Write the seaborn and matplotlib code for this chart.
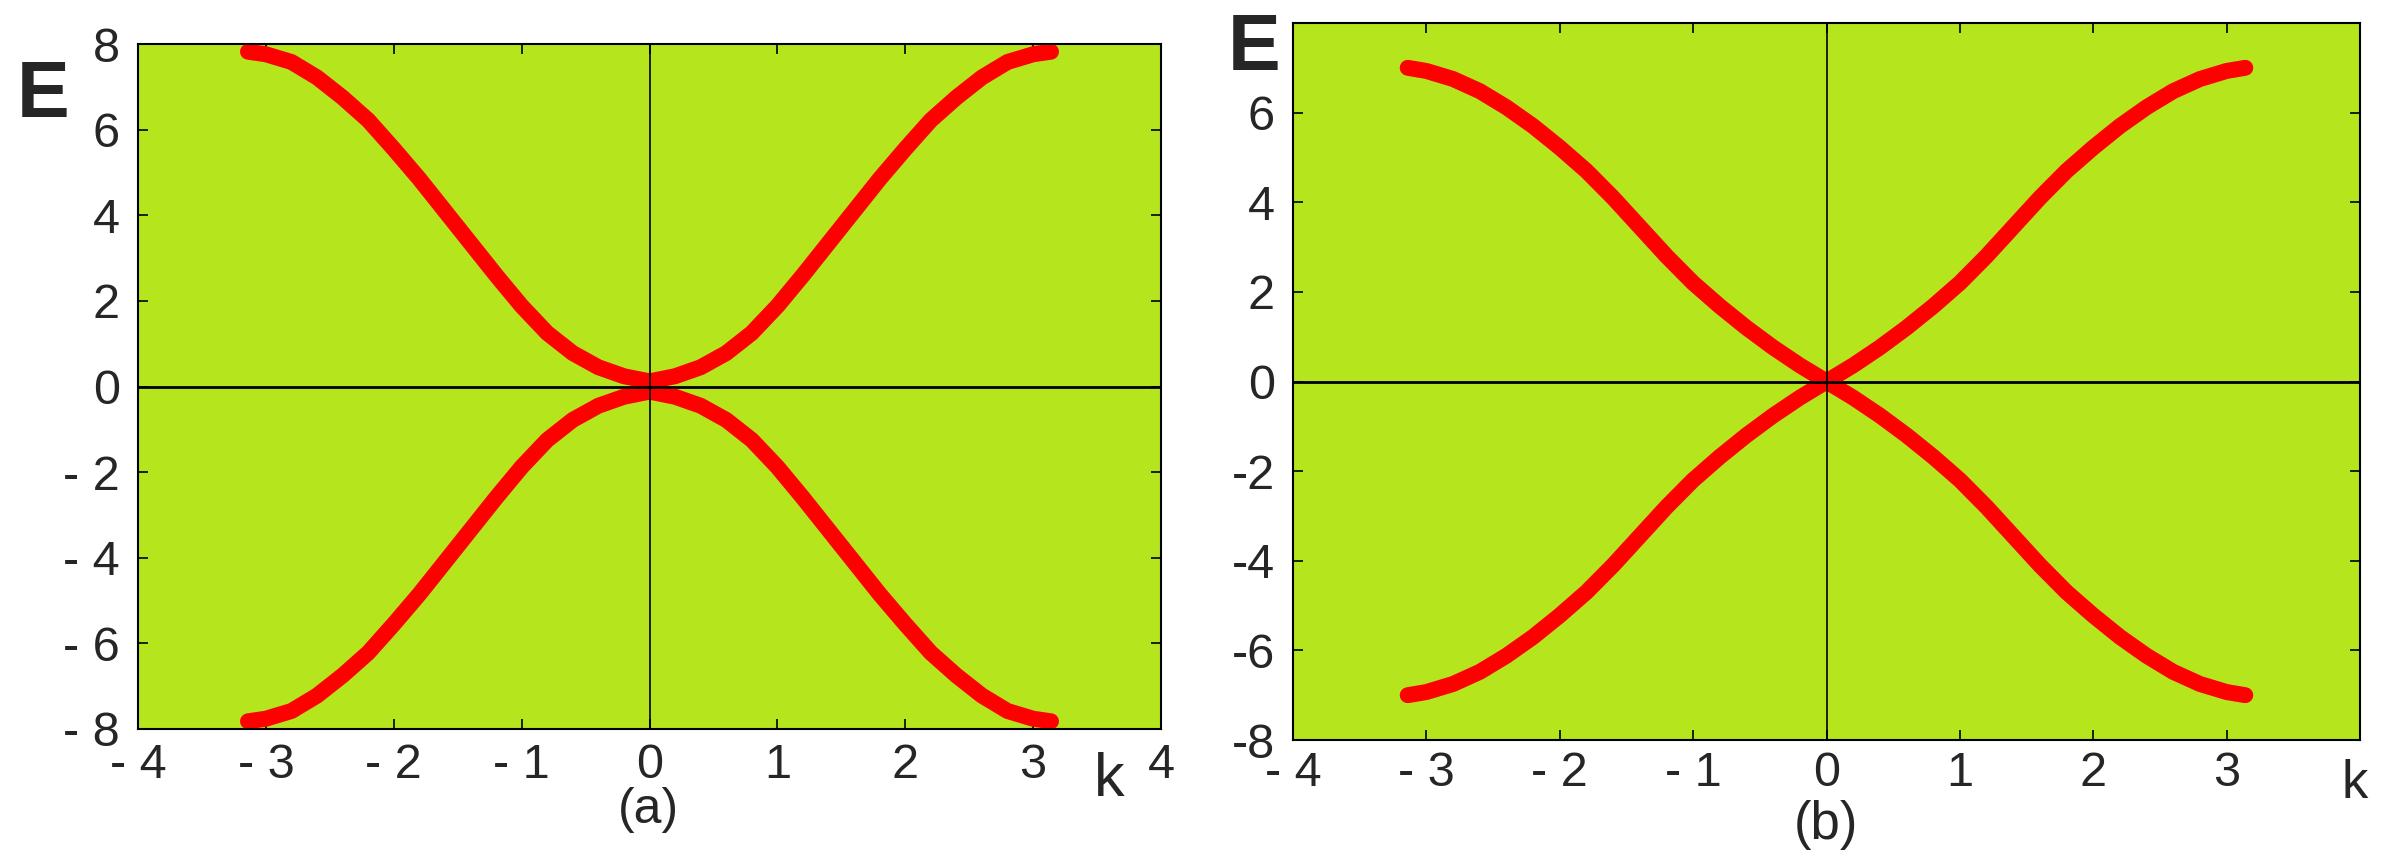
import matplotlib
matplotlib.use("Agg")
import matplotlib.pyplot as plt
import seaborn as sns

# ------------------------
# DATA
# ------------------------
k_vals = [-3.14, -3.0, -2.8, -2.6, -2.4, -2.2, -2.0, -1.8, -1.6, -1.4, -1.2, -1.0,
          -0.8, -0.6, -0.4, -0.2, 0.0, 0.2, 0.4, 0.6, 0.8, 1.0, 1.2, 1.4, 1.6,
          1.8, 2.0, 2.2, 2.4, 2.6, 2.8, 3.0, 3.14]

# panel (a): two gapped bands
E_a_upper = [7.82, 7.76, 7.58, 7.22, 6.75, 6.22, 5.55, 4.85, 4.1, 3.35, 2.6, 1.88,
             1.25, 0.78, 0.45, 0.24, 0.12, 0.24, 0.45, 0.78, 1.25, 1.88, 2.6, 3.35,
             4.1, 4.85, 5.55, 6.22, 6.75, 7.22, 7.58, 7.76, 7.82]
E_a_lower = [-7.82, -7.76, -7.58, -7.22, -6.75, -6.22, -5.55, -4.85, -4.1, -3.35, -2.6, -1.88,
             -1.25, -0.78, -0.45, -0.24, -0.12, -0.24, -0.45, -0.78, -1.25, -1.88, -2.6, -3.35,
             -4.1, -4.85, -5.55, -6.22, -6.75, -7.22, -7.58, -7.76, -7.82]

# panel (b): crossing bands
E_b_rise = [-7.0, -6.93, -6.75, -6.48, -6.12, -5.7, -5.22, -4.7, -4.1, -3.45, -2.8, -2.2,
            -1.68, -1.2, -0.76, -0.36, 0.0, 0.36, 0.76, 1.2, 1.68, 2.2, 2.8, 3.45,
            4.1, 4.7, 5.22, 5.7, 6.12, 6.48, 6.75, 6.93, 7.0]
E_b_fall = [7.0, 6.93, 6.75, 6.48, 6.12, 5.7, 5.22, 4.7, 4.1, 3.45, 2.8, 2.2,
            1.68, 1.2, 0.76, 0.36, 0.0, -0.36, -0.76, -1.2, -1.68, -2.2, -2.8, -3.45,
            -4.1, -4.7, -5.22, -5.7, -6.12, -6.48, -6.75, -6.93, -7.0]

a_xticks = [-4, -3, -2, -1, 0, 1, 2, 3, 4]
a_xticklabels = ["- 4", "- 3", "- 2", "- 1", "0", "1", "2", "3", "4"]
b_xticks = [-4, -3, -2, -1, 0, 1, 2, 3, 4]
b_xticklabels = ["- 4", "- 3", "- 2", "- 1", "0", "1", "2", "3", ""]
a_yticks = [-8, -6, -4, -2, 0, 2, 4, 6, 8]
a_yticklabels = ["- 8", "- 6", "- 4", "- 2", "0", "2", "4", "6", "8"]
b_yticks = [-8, -6, -4, -2, 0, 2, 4, 6]
b_yticklabels = ["-8", "-6", "-4", "-2", "0", "2", "4", "6"]

# ------------------------
# STYLE
# ------------------------
BG = "#B5E61D"
RED = "#FF0000"
W, H = 2390, 865

sns.set_style("ticks", {"axes.facecolor": BG, "axes.edgecolor": "black"})
plt.rcParams["font.family"] = ["Liberation Sans", "DejaVu Sans"]
FONT = ["Liberation Sans", "DejaVu Sans"]


def box(l, t, r, b):
    # pixel box -> figure fraction
    return [l / W, 1 - b / H, (r - l) / W, (b - t) / H]


fig = plt.figure(figsize=(W / 100, H / 100), dpi=100)
ax_a = fig.add_axes(box(138, 44, 1161, 729))
ax_b = fig.add_axes(box(1293, 23, 2360, 740))


def draw_band(ax, k, e):
    sns.lineplot(x=k, y=e, ax=ax, color=RED, lw=11.5, sort=False,
                 solid_capstyle="round", solid_joinstyle="round", zorder=3)


draw_band(ax_a, k_vals, E_a_upper)
draw_band(ax_a, k_vals, E_a_lower)
draw_band(ax_b, k_vals, E_b_rise)
draw_band(ax_b, k_vals, E_b_fall)

for ax in (ax_a, ax_b):
    ax.set_xlim(-4, 4)
    ax.set_ylim(-8, 8)
    ax.axhline(0, color="black", lw=2.0, zorder=4)
    ax.axvline(0, color="black", lw=1.2, zorder=4)
    ax.tick_params(which="both", direction="in", top=True, right=True,
                   length=7, width=1.2, color="black")
    for sp in ax.spines.values():
        sp.set_visible(True)
        sp.set_linewidth(1.5)
        sp.set_zorder(5)
    ax.set_xlabel("")
    ax.set_ylabel("")

# panel (a) ticks
ax_a.set_xticks(a_xticks)
ax_a.set_xticklabels(a_xticklabels, fontsize=35, family=FONT)
ax_a.set_yticks(a_yticks)
ax_a.set_yticklabels(a_yticklabels, fontsize=35, family=FONT)
ax_a.tick_params(axis="x", pad=10)
ax_a.tick_params(axis="y", pad=13)

# panel (b) ticks
ax_b.set_xticks(b_xticks)
ax_b.set_xticklabels(b_xticklabels, fontsize=35, family=FONT)
ax_b.set_yticks(b_yticks)
ax_b.set_yticklabels(b_yticklabels, fontsize=35, family=FONT)
ax_b.tick_params(axis="x", pad=8)
ax_b.tick_params(axis="y", pad=13)


def ftext(x, y, s, **kw):
    fig.text(x / W, 1 - y / H, s, **kw)


ftext(43, 117, "E", fontsize=57, fontweight="bold", ha="center", va="baseline", family=FONT)
ftext(1254, 70, "E", fontsize=57, fontweight="bold", ha="center", va="baseline", family=FONT)
ftext(1109, 796, "k", fontsize=44, ha="center", va="baseline", family=FONT)
ftext(2355, 798, "k", fontsize=38, ha="center", va="baseline", family=FONT)
ftext(648, 810, "(a)", fontsize=36, ha="center", va="center", family=FONT)
ftext(1826, 825, "(b)", fontsize=38, ha="center", va="center", family=FONT)

fig.savefig("out.png", dpi=100, facecolor="white")
